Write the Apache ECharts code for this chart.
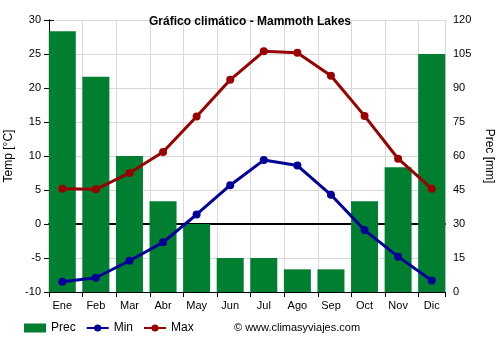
<!DOCTYPE html>
<html><head><meta charset="utf-8">
<script src="https://cdn.jsdelivr.net/npm/echarts@6/dist/echarts.min.js"></script>
<style>html,body{margin:0;padding:0;background:#fff}#c{width:500px;height:350px}</style>
</head><body><div id="c"></div>
<script>
const months = ['Ene','Feb','Mar','Abr','May','Jun','Jul','Ago','Sep','Oct','Nov','Dic'];
const prec = [115, 95, 60, 40, 30, 15, 15, 10, 10, 40, 55, 105];
const tmin = [-8.5, -7.9, -5.4, -2.7, 1.4, 5.7, 9.4, 8.6, 4.3, -0.9, -4.8, -8.3];
const tmax = [5.2, 5.1, 7.5, 10.6, 15.8, 21.2, 25.4, 25.2, 21.8, 15.9, 9.6, 5.2];

const chart = echarts.init(document.getElementById('c'));
const font = 'Liberation Sans, Arial, sans-serif';
const gridV = {top: 20, bottom: 58, containLabel: false, outerBoundsMode: 'none'};
chart.setOption({
  animation: false,
  textStyle: {fontFamily: font},
  title: {text: 'Gráfico climático - Mammoth Lakes', left: 'center', top: 11,
    textStyle: {fontSize: 12, fontWeight: 'bold', color: '#000', fontFamily: font}},
  grid: [
    Object.assign({left: 49, right: 55}, gridV),
    Object.assign({left: 45.5, right: 51.5}, gridV)
  ],
  legend: {bottom: 11, left: 19, itemGap: 10, itemWidth: 22, itemHeight: 9,
    textStyle: {fontSize: 12, color: '#000', fontFamily: font},
    data: [{name: 'Prec', icon: 'rect'}, {name: 'Min'}, {name: 'Max'}]},
  graphic: [{type: 'text', left: 234, top: 322,
    style: {text: '© www.climasyviajes.com', fontSize: 11, fill: '#000', fontFamily: font}}],
  xAxis: [
    {type: 'value', gridIndex: 0, min: 0, max: 11.786, interval: 1, position: 'bottom',
     axisLine: {show: true, onZero: false, lineStyle: {color: '#000'}},
     axisTick: {show: true, lineStyle: {color: '#000'}},
     axisLabel: {show: false},
     splitLine: {show: true, lineStyle: {color: '#d8d8d8'}}},
    {type: 'value', gridIndex: 0, min: 0, max: 1, position: 'top',
     axisLine: {show: true, onZero: true, onZeroAxisIndex: 0, lineStyle: {color: '#000', width: 2}},
     axisTick: {show: false}, axisLabel: {show: false}, splitLine: {show: false}},
    {type: 'category', gridIndex: 1, data: months,
     axisLine: {show: false}, axisTick: {show: false},
     axisLabel: {color: '#000', fontSize: 11, margin: 8},
     splitLine: {show: false}}
  ],
  yAxis: [
    {type: 'value', gridIndex: 0, min: -10, max: 30, interval: 5, name: 'Temp [°C]',
     nameLocation: 'middle', nameGap: 34, nameTextStyle: {fontSize: 12, color: '#000'},
     axisLine: {show: true, lineStyle: {color: '#000'}},
     axisTick: {show: true, lineStyle: {color: '#000'}},
     axisLabel: {color: '#000', fontSize: 11},
     splitLine: {show: true, lineStyle: {color: '#d8d8d8'}}},
    {type: 'value', gridIndex: 0, min: 0, max: 120, interval: 7.5, name: 'Prec [mm]',
     nameLocation: 'middle', nameGap: 38, nameRotate: -90, nameTextStyle: {fontSize: 12, color: '#000'},
     axisLine: {show: true, lineStyle: {color: '#000'}},
     axisTick: {show: true, lineStyle: {color: '#000'}},
     axisLabel: {color: '#000', fontSize: 11, formatter: v => (v % 15 === 0 ? String(v) : '')},
     splitLine: {show: false}},
    {type: 'value', gridIndex: 1, min: -10, max: 30, show: false},
    {type: 'value', gridIndex: 1, min: 0, max: 120, show: false}
  ],
  series: [
    {name: 'Prec', type: 'bar', xAxisIndex: 2, yAxisIndex: 3, data: prec, barWidth: 27,
     itemStyle: {color: '#007f30'}, z: 2},
    {name: 'Min', type: 'line', xAxisIndex: 2, yAxisIndex: 2, data: tmin, symbol: 'circle', symbolSize: 8,
     lineStyle: {color: '#000099', width: 3}, itemStyle: {color: '#000099'}, z: 5},
    {name: 'Max', type: 'line', xAxisIndex: 2, yAxisIndex: 2, data: tmax, symbol: 'circle', symbolSize: 8,
     lineStyle: {color: '#990000', width: 3}, itemStyle: {color: '#990000'}, z: 5}
  ]
});
</script></body></html>
